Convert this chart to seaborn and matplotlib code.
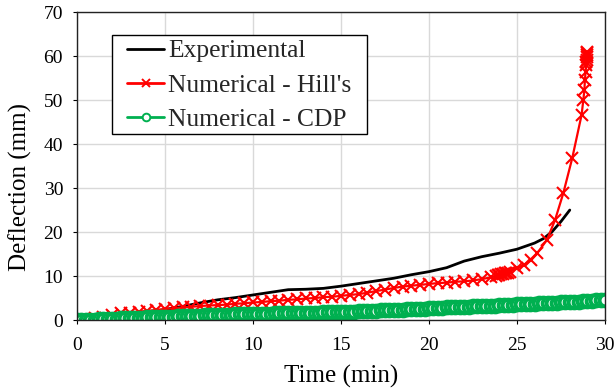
import matplotlib
matplotlib.use("Agg")
import matplotlib.pyplot as plt
from matplotlib.patches import Rectangle
import seaborn as sns

# Experimental mid-span deflection
exp_time = [0, 1, 2, 3, 4, 5, 6, 7, 8, 9, 10, 11, 12, 13, 14, 15, 16, 17, 18, 19,
            20, 21, 22, 23, 24, 25, 26, 26.5, 27, 27.5, 28]
exp_defl = [0, 0.4, 0.9, 1.4, 1.9, 2.5, 3.2, 4.0, 4.7, 5.2, 5.8, 6.4, 7.0, 7.1, 7.3,
            7.8, 8.4, 9.0, 9.6, 10.4, 11.1, 12.0, 13.5, 14.5, 15.3, 16.2, 17.6, 18.6,
            20.2, 22.5, 25.1]

# Numerical model with Hill's yield criterion
hill_time = [0, 0.5, 1, 1.5, 2, 2.5, 3, 3.5, 4, 4.5, 5, 5.5, 6, 6.5, 7, 7.5, 8, 8.5,
             9, 9.5, 10, 10.5, 11, 11.5, 12, 12.5, 13, 13.5, 14, 14.5, 15, 15.5, 16,
             16.5, 17, 17.5, 18, 18.5, 19, 19.5, 20, 20.5, 21, 21.5, 22, 22.5, 23,
             23.5, 23.8, 23.9, 24.0, 24.1, 24.2, 24.3, 24.4, 24.5, 24.6, 24.98, 25.4,
             25.8, 26.15, 26.7, 27.16, 27.63, 28.14, 28.67, 28.77, 28.83, 28.86, 28.9,
             28.93, 28.95, 28.96, 28.97, 28.98, 28.99, 29.0]
hill_defl = [0, 0.2, 0.5, 0.9, 1.3, 1.6, 1.8, 2.0, 2.2, 2.4, 2.6, 2.8, 3.0, 3.1, 3.3,
             3.4, 3.5, 3.6, 3.8, 3.9, 4.1, 4.2, 4.4, 4.5, 4.7, 4.8, 5.0, 5.1, 5.3, 5.4,
             5.6, 5.8, 6.0, 6.3, 6.7, 7.0, 7.4, 7.7, 7.9, 8.1, 8.3, 8.5, 8.6, 8.8, 8.9,
             9.1, 9.4, 9.8, 10.1, 10.3, 10.4, 10.5, 10.6, 10.7, 10.8, 10.9, 11.1, 11.9,
             12.6, 13.7, 15.3, 18.3, 22.8, 28.9, 36.9, 46.7, 50.1, 52.4, 54.7, 56.5,
             58.0, 58.8, 59.3, 59.8, 60.3, 60.7, 61.0]

# Numerical model with the concrete damaged plasticity (CDP) model
cdp_time = [0, 0.25, 0.5, 0.75, 1, 1.25, 1.5, 1.75, 2, 2.25, 2.5, 2.75, 3, 3.25, 3.5,
            3.75, 4, 4.25, 4.5, 4.75, 5, 5.25, 5.5, 5.75, 6, 6.25, 6.5, 6.75, 7, 7.25,
            7.5, 7.75, 8, 8.25, 8.5, 8.75, 9, 9.25, 9.5, 9.75, 10, 10.25, 10.5, 10.75,
            11, 11.25, 11.5, 11.75, 12, 12.25, 12.5, 12.75, 13, 13.25, 13.5, 13.75, 14,
            14.25, 14.5, 14.75, 15, 15.25, 15.5, 15.75, 16, 16.25, 16.5, 16.75, 17,
            17.25, 17.5, 17.75, 18, 18.25, 18.5, 18.75, 19, 19.25, 19.5, 19.75, 20,
            20.25, 20.5, 20.75, 21, 21.25, 21.5, 21.75, 22, 22.25, 22.5, 22.75, 23,
            23.25, 23.5, 23.75, 24, 24.25, 24.5, 24.75, 25, 25.25, 25.5, 25.75, 26,
            26.25, 26.5, 26.75, 27, 27.25, 27.5, 27.75, 28, 28.25, 28.5, 28.75, 29,
            29.25, 29.5, 29.75, 30]
cdp_defl = [0.0, 0.05, 0.1, 0.15, 0.2, 0.25, 0.3, 0.34, 0.38, 0.42, 0.46, 0.5, 0.54,
            0.58, 0.62, 0.66, 0.7, 0.73, 0.76, 0.79, 0.82,
            0.86, 0.9, 0.94, 0.98, 1.02, 1.06, 1.1, 1.13, 1.16, 1.19, 1.22, 1.25, 1.28,
            1.31, 1.34, 1.37, 1.4, 1.43, 1.46, 1.5,
            1.52, 1.54, 1.56, 1.58, 1.6, 1.62, 1.64, 1.66, 1.68, 1.7, 1.72, 1.74, 1.76,
            1.78, 1.8, 1.82, 1.84, 1.86, 1.88, 1.9,
            1.95, 2.0, 2.04, 2.08, 2.12, 2.16, 2.2, 2.24, 2.28, 2.32, 2.36, 2.4, 2.44,
            2.48, 2.52, 2.56, 2.6, 2.66, 2.72, 2.8,
            2.84, 2.88, 2.92, 2.96, 3.0, 3.04, 3.08, 3.12, 3.16, 3.2, 3.24, 3.28, 3.32,
            3.36, 3.4, 3.45, 3.5, 3.55, 3.62, 3.7,
            3.74, 3.78, 3.82, 3.86, 3.9, 3.94, 3.98, 4.02, 4.06, 4.1, 4.15, 4.2, 4.25,
            4.3, 4.35, 4.4, 4.48, 4.56, 4.63, 4.7]

x_ticks = [0, 5, 10, 15, 20, 25, 30]
y_ticks = [0, 10, 20, 30, 40, 50, 60, 70]

sns.set_theme(style="whitegrid")
plt.rcParams["font.family"] = ["Liberation Serif", "DejaVu Serif"]

fig = plt.figure(figsize=(6.15, 3.88), dpi=100)
ax = fig.add_axes([0.1252, 0.174, 0.8585, 0.7938])

sns.lineplot(x=exp_time, y=exp_defl, ax=ax, color="black", linewidth=2.0,
             label="Experimental", estimator=None, sort=False)
sns.lineplot(x=hill_time, y=hill_defl, ax=ax, color="#ff0000", linewidth=1.6,
             marker="x", markersize=8, markeredgewidth=1.5, markeredgecolor="#ff0000",
             label="Numerical - Hill's", estimator=None, sort=False)
sns.lineplot(x=cdp_time, y=cdp_defl, ax=ax, color="#00b050", linewidth=2.0,
             marker="o", markersize=8.5, markerfacecolor="white",
             markeredgecolor="#00b050", markeredgewidth=2.8,
             label="Numerical - CDP", estimator=None, sort=False)

ax.set_xlim(0, 30)
ax.set_ylim(0, 70)
ax.set_xticks(x_ticks)
ax.set_yticks(y_ticks)
ax.grid(True, color="#d9d9d9", linewidth=1.0)
ax.set_facecolor("white")
for s in ax.spines.values():
    s.set_color("#222222")
    s.set_linewidth(1.0)

ax.tick_params(axis="both", which="major", labelsize=14, colors="black",
               length=3, width=0.8, direction="out", bottom=True, left=True)
ax.tick_params(axis="x", pad=9)
ax.tick_params(axis="y", pad=7)
ax.set_xlabel("Time (min)", fontsize=18, color="black", labelpad=8)
ax.set_ylabel("Deflection (mm)", fontsize=18, color="black")
ax.yaxis.set_label_coords(-0.085, 0.432)

# Legend entries without their own frame; the box is drawn separately
leg = ax.legend(loc="upper left", bbox_to_anchor=(0.0947, 0.912), fontsize=18.4,
                frameon=False, handlelength=1.45, handletextpad=0.16,
                labelspacing=0.45, borderpad=0, borderaxespad=0)
for h in leg.get_lines():
    h.set_markersize(5.5)
    h.set_markeredgewidth(1.4)
    h.set_linewidth(2.0)
leg.set_zorder(6)

box = Rectangle((0.0669, 0.6055), 0.4818, 0.3215, transform=ax.transAxes,
                facecolor="white", edgecolor="black", linewidth=1.0, zorder=5.5)
ax.add_patch(box)

fig.savefig("out.png", dpi=100)
